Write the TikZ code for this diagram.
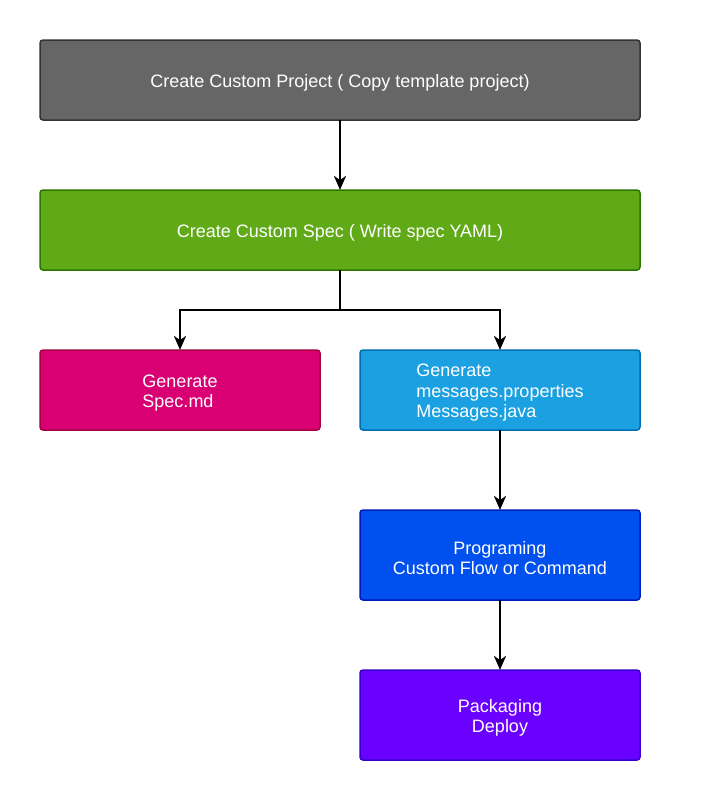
\documentclass[tikz,border=0pt]{standalone}
\usepackage{fontspec}
\setmainfont{Liberation Sans}
\usepackage{tikz}
\usetikzlibrary{arrows.meta,positioning}
\definecolor{grayf}{HTML}{666666}
\definecolor{grayd}{HTML}{333333}
\definecolor{greenf}{HTML}{60A917}
\definecolor{greend}{HTML}{2D7600}
\definecolor{pinkf}{HTML}{D80073}
\definecolor{pinkd}{HTML}{A50040}
\definecolor{cyanf}{HTML}{1BA1E2}
\definecolor{cyand}{HTML}{006EAF}
\definecolor{bluef}{HTML}{0050EF}
\definecolor{blued}{HTML}{001DBC}
\definecolor{violf}{HTML}{6A00FF}
\definecolor{viold}{HTML}{3700CC}
\tikzset{bx/.style 2 args={rectangle, rounded corners=3pt, line width=1.5pt,
            fill=#1, draw=#2, text=white, align=center, outer sep=0pt,
            font=\fontsize{18}{20.5}\selectfont, inner sep=0pt,
            execute at begin node={\rule{0pt}{18pt}}},
         ar/.style={-{Stealth[length=14pt,width=12pt,inset=4pt]}, line width=2.5pt, black}}

\begin{document}
\begin{tikzpicture}[x=1pt, y=-1pt]
\useasboundingbox (0,0) rectangle (721,801);
 \node[bx={grayf}{grayd}, minimum width=600pt, minimum height=80pt] (proj) at (340,80)
    {Create Custom Project ( Copy template project)};
 \node[bx={greenf}{greend}, minimum width=600pt, minimum height=80pt] (spec) [below=70pt of proj]
    {Create Custom Spec ( Write spec YAML)};

 % multi-line boxes: text sits a little low in the original
 \node[bx={pinkf}{pinkd}, minimum width=280pt, minimum height=80pt] (md) at (180,390) {};
 \node[bx={pinkf}{pinkd}, draw=none, fill=none, align=left] (mdt) at ([yshift=-3pt]md.center)
    {Generate\\Spec.md};
 \node[bx={cyanf}{cyand}, minimum width=280pt, minimum height=80pt] (msg) [right=40pt of md] {};
 \node[bx={cyanf}{cyand}, draw=none, fill=none, align=left] (msgt) at ([yshift=-3pt]msg.center)
    {Generate\\messages.properties\\Messages.java};
 \node[bx={bluef}{blued}, minimum width=280pt, minimum height=90pt] (prog) [below=80pt of msg] {};
 \node[bx={bluef}{blued}, draw=none, fill=none] (progt) at ([yshift=-3pt]prog.center)
    {Programing\\Custom Flow or Command};
 \node[bx={violf}{viold}, minimum width=280pt, minimum height=90pt] (pack) [below=70pt of prog] {};
 \node[bx={violf}{viold}, draw=none, fill=none] (packt) at ([yshift=-3pt]pack.center)
    {Packaging\\Deploy};

 \coordinate (split) at (340,310);
\draw [ar] (proj.south) -- (spec.north);
\draw [ar] (spec.south) -- (split) -| (md.north);
\draw [ar] (split) -| (msg.north);
\draw [ar] (msg.south) -- (prog.north);
\draw [ar] (prog.south) -- (pack.north);
\end{tikzpicture}
\end{document}
